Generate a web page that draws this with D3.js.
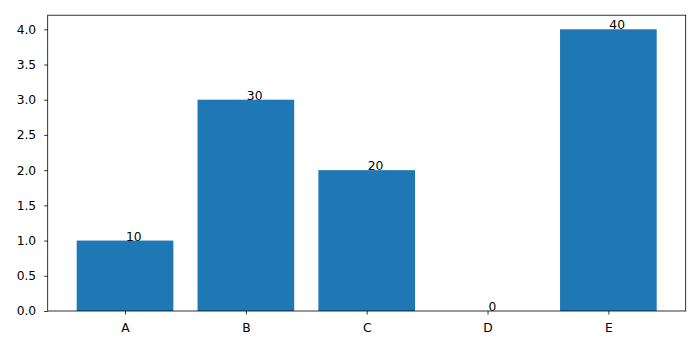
<!DOCTYPE html>
<html><head><meta charset="utf-8">
<script src="https://cdn.jsdelivr.net/npm/d3@7"></script>
<style>body{margin:0;background:#fff}</style>
</head><body>
<script>
const categories = ["A","B","C","D","E"];
const values = [1,3,2,0,4];
const labels = ["10","30","20","0","40"];
const yTicks = [0,0.5,1,1.5,2,2.5,3,3.5,4];

const W=700,H=350;
const mLeft=47.7,mRight=685.7,mTop=15.2,mBottom=311;
const svg=d3.select("body").append("svg").attr("width",W).attr("height",H);
const x=d3.scaleLinear().domain([-0.64,4.64]).range([mLeft,mRight]);
const y=d3.scaleLinear().domain([0,4.2]).range([mBottom,mTop]);
const font="DejaVu Sans";
const fs="12.3px";

svg.selectAll("rect.bar").data(values).enter().append("rect")
  .attr("x",(d,i)=>x(i-0.4)).attr("width",(d,i)=>x(i+0.4)-x(i-0.4))
  .attr("y",d=>y(d)).attr("height",d=>y(0)-y(d)).attr("fill","#1f77b4");

svg.selectAll("text.lab").data(values).enter().append("text")
  .attr("x",(d,i)=>x(i)+1).attr("y",d=>y(d))
  .attr("font-family",font).attr("font-size",fs).attr("fill","#000")
  .text((d,i)=>labels[i]);

const yAxis=d3.axisLeft(y).tickValues(yTicks).tickFormat(d3.format(".1f")).tickSize(3.5).tickPadding(8);
const gy=svg.append("g").attr("transform",`translate(${mLeft},0)`).call(yAxis);
const xAxis=d3.axisBottom(x).tickValues(d3.range(categories.length)).tickFormat(i=>categories[i]).tickSize(3.5).tickPadding(8.5);
const gx=svg.append("g").attr("transform",`translate(0,${mBottom})`).call(xAxis);
[gx,gy].forEach(g=>{
  g.select(".domain").remove();
  g.selectAll("text").attr("font-family",font).attr("font-size",fs).attr("fill","#000");
  g.selectAll("line").attr("stroke","#000").attr("stroke-width",0.8);
});
svg.append("rect").attr("x",mLeft).attr("y",mTop).attr("width",mRight-mLeft).attr("height",mBottom-mTop)
  .attr("fill","none").attr("stroke","#000").attr("stroke-width",0.8);
</script>
</body></html>
